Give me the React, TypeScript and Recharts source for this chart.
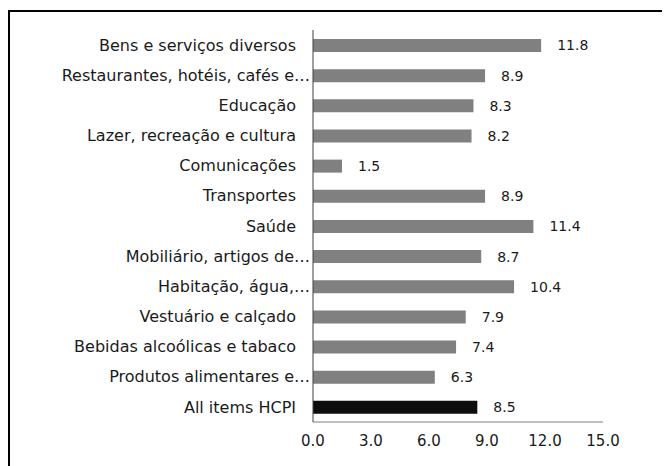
import { BarChart, Bar, XAxis, YAxis, Cell, LabelList } from 'recharts';

const categories = [
  'Bens e serviços diversos',
  'Restaurantes, hotéis, cafés e…',
  'Educação',
  'Lazer, recreação e cultura',
  'Comunicações',
  'Transportes',
  'Saúde',
  'Mobiliário, artigos de…',
  'Habitação, água,…',
  'Vestuário e calçado',
  'Bebidas alcoólicas e tabaco',
  'Produtos alimentares e…',
  'All items HCPI',
];

const values = [11.8, 8.9, 8.3, 8.2, 1.5, 8.9, 11.4, 8.7, 10.4, 7.9, 7.4, 6.3, 8.5];

const xTicks = [0, 3, 6, 9, 12, 15];

const FONT = 'DejaVu Sans, Verdana, sans-serif';

const data = categories.map((name, i) => ({ name, value: values[i] }));

function CategoryTick({ x, y, payload }: any) {
  const label: string = payload.value;
  // truncated labels run right up to the axis, others keep a gap
  const dx = label.endsWith('…') ? 14 : 0;
  return (
    <text x={x + dx} y={y} dy="0.35em" textAnchor="end" fill="#1a1a1a" fontSize={16} fontFamily={FONT}>
      {label}
    </text>
  );
}

export default function App() {
  return (
    <div style={{ position: 'relative', width: 658, paddingTop: 2, fontFamily: FONT }}>
      {/* title sits above the page edge, only its lowest strokes show */}
      <div
        style={{
          position: 'absolute',
          top: -19,
          left: 138,
          fontSize: 18,
          lineHeight: '21px',
          fontWeight: 'bold',
          whiteSpace: 'nowrap',
          color: '#000',
        }}
      >
        (média anual %)
      </div>
      <div style={{ border: '2px solid #000', width: 654, height: 460 }}>
        <BarChart
          width={654}
          height={454}
          data={data}
          layout="vertical"
          margin={{ top: 18, right: 61, bottom: 14, left: 0 }}
        >
          <XAxis
            type="number"
            domain={[0, 15]}
            ticks={xTicks}
            interval={0}
            tickFormatter={(v: number) => v.toFixed(1)}
            axisLine={{ stroke: '#7f7f7f' }}
            tickLine={false}
            tickSize={0}
            tickMargin={13}
            height={30}
            tick={{ fill: '#1a1a1a', fontSize: 15, fontFamily: FONT }}
          />
          <YAxis
            type="category"
            dataKey="name"
            width={303}
            interval={0}
            axisLine={{ stroke: '#404040' }}
            tickLine={false}
            tickSize={0}
            tickMargin={17}
            tick={<CategoryTick />}
          />
          <Bar dataKey="value" barSize={13} isAnimationActive={false}>
            {data.map((d, i) => (
              <Cell key={d.name} fill={i === data.length - 1 ? '#0d0d0d' : '#808080'} />
            ))}
            <LabelList
              dataKey="value"
              position="right"
              offset={16}
              formatter={(v: any) => Number(v).toFixed(1)}
              style={{ fill: '#1a1a1a', fontSize: 14, fontFamily: FONT }}
            />
          </Bar>
        </BarChart>
      </div>
    </div>
  );
}
